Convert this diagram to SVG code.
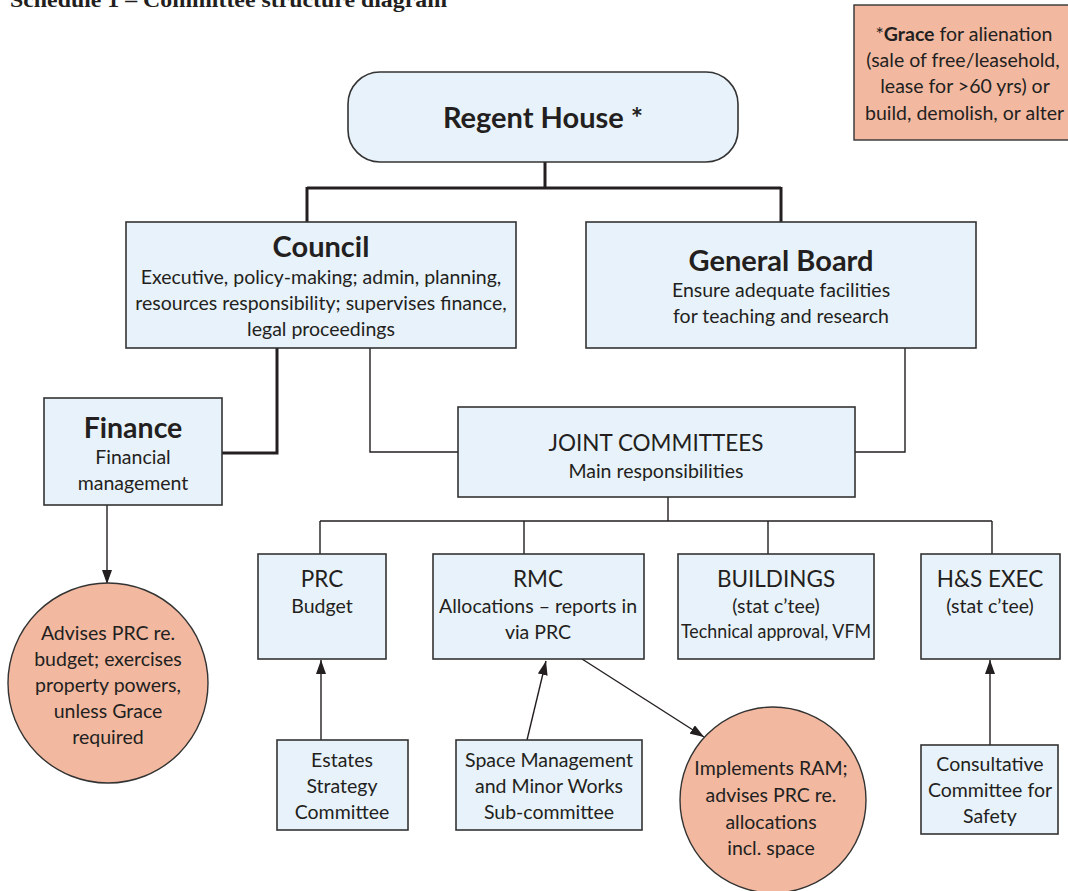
<svg xmlns="http://www.w3.org/2000/svg" width="1068" height="891" viewBox="0 0 1068 891">
<style>
.box{fill:#e8f2fa;stroke:#333;stroke-width:1.6}
.sal{fill:#f2b9a0;stroke:#333;stroke-width:1.4}
.t{font-family:Lato,"Noto Sans",sans-serif;fill:#231f20;text-anchor:middle;font-size:19.5px}
.h{font-size:22.5px}
.b{font-weight:bold}
.thick{stroke:#231f20;stroke-width:3;fill:none}
.thin{stroke:#231f20;stroke-width:1.4;fill:none}
</style>
<defs>
<marker id="ah" viewBox="0 0 14 10" refX="14" refY="5" markerWidth="14" markerHeight="10" markerUnits="userSpaceOnUse" orient="auto">
<path d="M0,0 L14,5 L0,10 z" fill="#231f20"/>
</marker>
</defs>
<rect width="1068" height="891" fill="#fff"/>
<text x="10" y="7" font-family="Liberation Serif,serif" font-weight="bold" font-size="20" fill="#231f20" textLength="437" lengthAdjust="spacingAndGlyphs">Schedule 1 – Committee structure diagram</text>

<g id="connectors">
<path class="thick" d="M545,162 V188 M307,188 H781 M307,187 V222 M781,187 V222"/>
<path class="thick" d="M277,348 V453 H222"/>
<path class="thin" d="M370,348 V452 H458"/>
<path class="thin" d="M905,348 V452 H855"/>
<path class="thin" d="M668,497 V521 M320,521 H992 M320,521 V554 M524,521 V554 M768,521 V554 M992,521 V554"/>
<path class="thin" d="M107,505 V584" marker-end="url(#ah)"/>
<path class="thin" d="M321,740 V660" marker-end="url(#ah)"/>
<path class="thin" d="M527,740 L546,661" marker-end="url(#ah)"/>
<path class="thin" d="M582,659 L704,737" marker-end="url(#ah)"/>
<path class="thin" d="M990,745 V660" marker-end="url(#ah)"/>
</g>

<g id="grace">
<rect class="sal" x="854" y="5" width="220" height="135"/>
<text class="t" x="964" y="41"><tspan>*</tspan><tspan class="b">Grace</tspan><tspan> for alienation</tspan></text>
<text class="t" x="963" y="67">(sale of free/leasehold,</text>
<text class="t" x="965" y="93">lease for &gt;60 yrs) or</text>
<text x="865" y="120" font-size="19.5" font-family="Lato,'Noto Sans',sans-serif" fill="#231f20">build, demolish, or alter</text>
</g>

<g id="regent">
<rect class="box" x="348" y="72" width="390" height="90" rx="32"/>
<text class="t b" font-size="29" x="543" y="128" style="font-size:29px">Regent House *</text>
</g>

<g id="council">
<rect class="box" x="126" y="222" width="390" height="126"/>
<text class="t b" x="321" y="257" style="font-size:29px">Council</text>
<text class="t" x="321" y="284">Executive, policy-making; admin, planning,</text>
<text class="t" x="321" y="310">resources responsibility; supervises finance,</text>
<text class="t" x="321" y="336">legal proceedings</text>
</g>

<g id="general-board">
<rect class="box" x="586" y="222" width="390" height="126"/>
<text class="t b" x="781" y="271" style="font-size:29px">General Board</text>
<text class="t" x="781" y="297">Ensure adequate facilities</text>
<text class="t" x="781" y="323">for teaching and research</text>
</g>

<g id="finance">
<rect class="box" x="44" y="398" width="178" height="107"/>
<text class="t b" x="133" y="438" style="font-size:28.5px">Finance</text>
<text class="t" x="133" y="464">Financial</text>
<text class="t" x="133" y="490">management</text>
</g>

<g id="joint-committees">
<rect class="box" x="458" y="407" width="397" height="90"/>
<text class="t h" x="656" y="451">JOINT COMMITTEES</text>
<text class="t" x="656" y="478">Main responsibilities</text>
</g>

<g id="finance-advice">
<circle class="sal" cx="108" cy="683" r="100"/>
<text class="t" x="108" y="640">Advises PRC re.</text>
<text class="t" x="108" y="666">budget; exercises</text>
<text class="t" x="108" y="692">property powers,</text>
<text class="t" x="108" y="718">unless Grace</text>
<text class="t" x="108" y="744">required</text>
</g>

<g id="prc">
<rect class="box" x="258" y="554" width="128" height="105"/>
<text class="t h" x="322" y="587">PRC</text>
<text class="t" x="322" y="613">Budget</text>
</g>

<g id="rmc">
<rect class="box" x="433" y="554" width="211" height="105"/>
<text class="t h" x="538" y="587">RMC</text>
<text class="t" x="538" y="613">Allocations – reports in</text>
<text class="t" x="538" y="639">via PRC</text>
</g>

<g id="buildings">
<rect class="box" x="678" y="554" width="196" height="105"/>
<text class="t h" x="776" y="587">BUILDINGS</text>
<text class="t" x="776" y="613">(stat c’tee)</text>
<text class="t" x="776" y="638" textLength="190" lengthAdjust="spacingAndGlyphs">Technical approval, VFM</text>
</g>

<g id="hs-exec">
<rect class="box" x="921" y="554" width="139" height="105"/>
<text class="t h" x="990" y="587">H&amp;S EXEC</text>
<text class="t" x="990" y="613">(stat c’tee)</text>
</g>

<g id="estates-strategy">
<rect class="box" x="277" y="740" width="131" height="90"/>
<text class="t" x="342" y="767">Estates</text>
<text class="t" x="342" y="793">Strategy</text>
<text class="t" x="342" y="819">Committee</text>
</g>

<g id="space-management">
<rect class="box" x="456" y="740" width="186" height="90"/>
<text class="t" x="549" y="767">Space Management</text>
<text class="t" x="549" y="793">and Minor Works</text>
<text class="t" x="549" y="819">Sub-committee</text>
</g>

<g id="rmc-advice">
<circle class="sal" cx="773" cy="800" r="93"/>
<text class="t" x="771" y="775">Implements RAM;</text>
<text class="t" x="771" y="802">advises PRC re.</text>
<text class="t" x="771" y="829">allocations</text>
<text class="t" x="771" y="855">incl. space</text>
</g>

<g id="consultative-safety">
<rect class="box" x="921" y="745" width="137" height="89"/>
<text class="t" x="990" y="771">Consultative</text>
<text class="t" x="990" y="797">Committee for</text>
<text class="t" x="990" y="823">Safety</text>
</g>
</svg>
